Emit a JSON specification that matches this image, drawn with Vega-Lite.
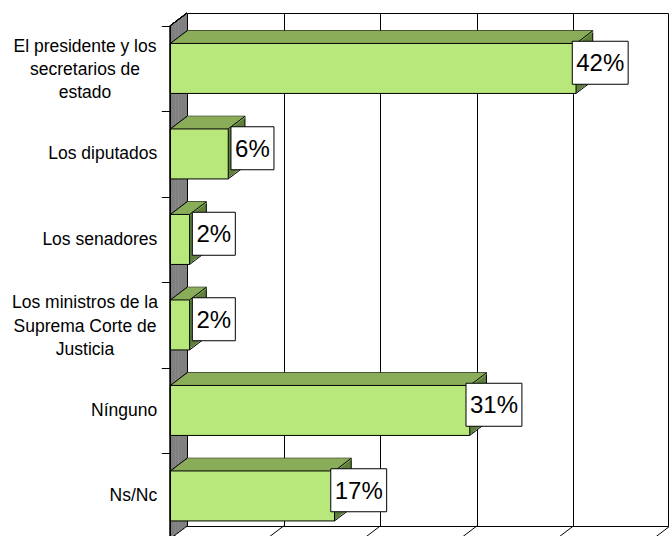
{
  "$schema": "https://vega.github.io/schema/vega-lite/v6.json",
  "autosize": {"type": "none"},
  "padding": {"left": 187, "top": 13, "right": 1, "bottom": 10},
  "width": 481,
  "height": 513,
  "background": "white",
  "config": {
    "view": {"stroke": "black", "strokeWidth": 1},
    "font": "Liberation Sans"
  },
  "data": {
    "values": [
      {"cat": "El presidente y los|secretarios de|estado", "pct": 0.42},
      {"cat": "Los diputados", "pct": 0.06},
      {"cat": "Los senadores", "pct": 0.02},
      {"cat": "Los ministros de la|Suprema Corte de|Justicia", "pct": 0.02},
      {"cat": "Nínguno", "pct": 0.31},
      {"cat": "Ns/Nc", "pct": 0.17}
    ]
  },
  "encoding": {
    "x": {
      "field": "pct", "type": "quantitative",
      "scale": {"domain": [0, 0.5], "range": [0, 483], "nice": false, "zero": true},
      "axis": {"title": null, "grid": true, "gridColor": "black", "gridOpacity": 1, "gridWidth": 1, "labels": false, "ticks": false, "domain": false, "values": [0, 0.1, 0.2, 0.3, 0.4, 0.5]}
    },
    "y": {
      "field": "cat", "type": "nominal", "sort": null,
      "scale": {"type": "band", "paddingInner": 0, "paddingOuter": 0},
      "axis": {
        "title": null, "offset": 16.7, "zindex": 1,
        "domain": false,
        "ticks": true, "tickColor": "black", "tickSize": 9, "tickWidth": 1, "bandPosition": 0, "tickOffset": 12.7,
        "grid": false,
        "labelFont": "Liberation Sans", "labelFontSize": 17.5, "labelColor": "black",
        "labelLimit": 0, "labelBaseline": "middle",
        "labelAlign": "right", "labelPadding": 4.6,
        "labelExpr": "indexof(datum.label, '|') >= 0 ? '' : datum.label"
      }
    }
  },
  "layer": [
    {"mark": {"type": "bar", "color": "#808080", "size": 86, "xOffset": -3.18, "x2Offset": 0, "yOffset": 1.06}, "encoding": {"x": {"datum": 0}, "x2": {"datum": 0}}},
    {"mark": {"type": "bar", "color": "#808080", "size": 86, "xOffset": -5.97, "x2Offset": -2.78, "yOffset": 3.18}, "encoding": {"x": {"datum": 0}, "x2": {"datum": 0}}},
    {"mark": {"type": "bar", "color": "#808080", "size": 86, "xOffset": -8.75, "x2Offset": -5.57, "yOffset": 5.29}, "encoding": {"x": {"datum": 0}, "x2": {"datum": 0}}},
    {"mark": {"type": "bar", "color": "#808080", "size": 86, "xOffset": -11.53, "x2Offset": -8.35, "yOffset": 7.41}, "encoding": {"x": {"datum": 0}, "x2": {"datum": 0}}},
    {"mark": {"type": "bar", "color": "#808080", "size": 86, "xOffset": -14.32, "x2Offset": -11.13, "yOffset": 9.53}, "encoding": {"x": {"datum": 0}, "x2": {"datum": 0}}},
    {"mark": {"type": "bar", "color": "#808080", "size": 86, "xOffset": -16.7, "x2Offset": -13.92, "yOffset": 11.64}, "encoding": {"x": {"datum": 0}, "x2": {"datum": 0}}},

    {"mark": {"type": "bar", "color": "#5f7f3b", "stroke": "black", "strokeWidth": 1, "size": 50, "xOffset": 0, "yOffset": 0}},
    {"mark": {"type": "bar", "color": "#5f7f3b", "size": 50, "xOffset": -1.67, "yOffset": 1.27}},
    {"mark": {"type": "bar", "color": "#5f7f3b", "size": 50, "xOffset": -3.34, "yOffset": 2.54}},
    {"mark": {"type": "bar", "color": "#5f7f3b", "size": 50, "xOffset": -5.01, "yOffset": 3.81}},
    {"mark": {"type": "bar", "color": "#5f7f3b", "size": 50, "xOffset": -6.68, "yOffset": 5.08}},
    {"mark": {"type": "bar", "color": "#5f7f3b", "size": 50, "xOffset": -8.35, "yOffset": 6.35}},
    {"mark": {"type": "bar", "color": "#5f7f3b", "size": 50, "xOffset": -10.02, "yOffset": 7.62}},
    {"mark": {"type": "bar", "color": "#5f7f3b", "size": 50, "xOffset": -11.69, "yOffset": 8.89}},
    {"mark": {"type": "bar", "color": "#5f7f3b", "size": 50, "xOffset": -13.36, "yOffset": 10.16}},
    {"mark": {"type": "bar", "color": "#5f7f3b", "size": 50, "xOffset": -15.03, "yOffset": 11.43}},

    {"mark": {"type": "bar", "color": "#8aad5a", "size": 2.27, "xOffset": 0, "yOffset": -23.865}},
    {"mark": {"type": "bar", "color": "#8aad5a", "size": 2.27, "xOffset": -1.67, "yOffset": -22.595}},
    {"mark": {"type": "bar", "color": "#8aad5a", "size": 2.27, "xOffset": -3.34, "yOffset": -21.325}},
    {"mark": {"type": "bar", "color": "#8aad5a", "size": 2.27, "xOffset": -5.01, "yOffset": -20.055}},
    {"mark": {"type": "bar", "color": "#8aad5a", "size": 2.27, "xOffset": -6.68, "yOffset": -18.785}},
    {"mark": {"type": "bar", "color": "#8aad5a", "size": 2.27, "xOffset": -8.35, "yOffset": -17.515}},
    {"mark": {"type": "bar", "color": "#8aad5a", "size": 2.27, "xOffset": -10.02, "yOffset": -16.245}},
    {"mark": {"type": "bar", "color": "#8aad5a", "size": 2.27, "xOffset": -11.69, "yOffset": -14.975}},
    {"mark": {"type": "bar", "color": "#8aad5a", "size": 2.27, "xOffset": -13.36, "yOffset": -13.705}},
    {"mark": {"type": "bar", "color": "#8aad5a", "size": 2.27, "xOffset": -15.03, "yOffset": -12.435}},

    {"mark": {"type": "rule", "color": "black", "strokeWidth": 1, "x2Offset": -16.7, "yOffset": -25, "y2Offset": -12.3},
     "encoding": {"x2": {"field": "pct"}, "y2": {"field": "cat"}}},
    {"mark": {"type": "rule", "color": "black", "strokeWidth": 1, "x2Offset": -16.7, "yOffset": 25, "y2Offset": 37.7},
     "encoding": {"x2": {"field": "pct"}, "y2": {"field": "cat"}}},
    {"mark": {"type": "rule", "color": "black", "strokeWidth": 1, "x2Offset": -16.7, "yOffset": -25, "y2Offset": -12.3},
     "encoding": {"x": {"datum": 0}, "x2": {"datum": 0}, "y2": {"field": "cat"}}},

    {"mark": {"type": "bar", "fill": "#b8e87c", "stroke": "black", "strokeWidth": 1, "size": 50, "xOffset": -16.7, "yOffset": 12.7}},

    {"mark": {"type": "rule", "color": "black", "strokeWidth": 1, "xOffset": -16.7, "yOffset": 12.7, "y2Offset": 12.7},
     "encoding": {"x": {"datum": 0}, "y": {"value": 0}, "y2": {"value": "height"}}},
    {"mark": {"type": "rule", "color": "black", "strokeWidth": 1, "x2Offset": -16.7, "y2Offset": 12.7},
     "encoding": {"x": {"datum": 0}, "x2": {"datum": 0}, "y": {"value": 0}, "y2": {"value": 0}}},

    {"mark": {"type": "point", "filled": true, "fill": "white", "stroke": "black", "strokeWidth": 1, "opacity": 1, "size": 1849, "xOffset": 7.5, "yOffset": 7},
     "encoding": {"shape": {"condition": {"test": "datum.pct >= 0.1", "value": "M-1.3,-1L1.3,-1L1.3,1L-1.3,1Z"}, "value": "square"}}},
    {"mark": {"type": "text", "font": "Liberation Sans", "fontSize": 24, "color": "black", "align": "center", "baseline": "middle", "xOffset": 7.5, "yOffset": 8.4},
     "encoding": {"text": {"field": "pct", "type": "quantitative", "format": ".0%"}}},

    {"mark": {"type": "text", "font": "Liberation Sans", "fontSize": 17.5, "color": "black", "align": "center", "baseline": "middle", "lineBreak": "|", "lineHeight": 23.3, "xOffset": -102, "yOffset": -9},
     "encoding": {"x": {"datum": 0}, "text": {"condition": {"test": "indexof(datum.cat, '|') >= 0", "field": "cat"}, "value": ""}}},

    {"data": {"values": [{"pct": 0}, {"pct": 0.1}, {"pct": 0.2}, {"pct": 0.3}, {"pct": 0.4}, {"pct": 0.5}]},
     "mark": {"type": "rule", "color": "black", "strokeWidth": 1, "x2Offset": -16.7, "y2Offset": 12.7},
     "encoding": {"x2": {"field": "pct"}, "y": {"value": "height"}, "y2": {"value": "height"}}}
  ]
}
